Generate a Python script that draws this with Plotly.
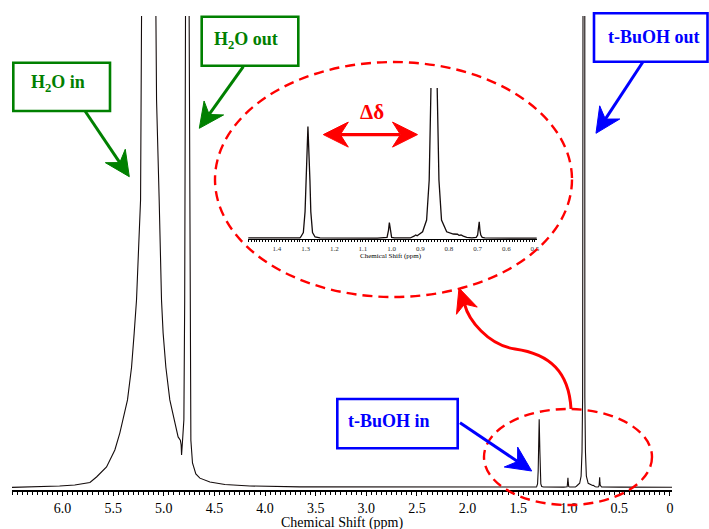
import math
import plotly.graph_objects as go

# ---------------- data ----------------
ppm = [6.50, 6.22, 6.03, 5.88, 5.73, 5.665, 5.566, 5.484, 5.435, 5.359, 5.319, 5.293,
       5.270, 5.230, 5.217, 5.210, 5.178, 5.145, 5.114, 5.082, 5.072, 5.046, 5.023,
       5.007, 4.980, 4.941, 4.891, 4.859, 4.837, 4.829, 4.825, 4.821, 4.812, 4.802,
       4.794, 4.786, 4.768, 4.750, 4.743, 4.733, 4.717, 4.684, 4.644, 4.545, 4.397,
       4.150, 3.656, 2.500, 1.600, 1.320, 1.317, 1.308, 1.302, 1.299, 1.292, 1.285,
       1.282, 1.276, 1.267, 1.250, 1.050, 1.016, 1.014, 1.011, 1.008, 1.005, 1.002,
       1.000, 0.990, 0.935, 0.922, 0.916, 0.911, 0.892, 0.878, 0.869, 0.863, 0.857,
       0.852, 0.847, 0.841, 0.835, 0.826, 0.808, 0.785, 0.775, 0.770, 0.765, 0.758,
       0.750, 0.738, 0.720, 0.705, 0.700, 0.6975, 0.6945, 0.692, 0.689, 0.684, 0.675,
       0.500, 0.300, -0.02]
intensity = [0.55, 0.65, 0.85, 1.05, 1.6, 2.75, 4.85, 8.45, 12.0, 19.0, 25.9, 33.1,
             40.1, 61.2, 82.3, 100, 200, 400, 200, 100, 82.3, 61.2, 40.1,
             33.1, 25.9, 19.0, 14.1, 11.2, 10.5, 9.5, 7.4, 9.8, 11.5, 14.8,
             40, 100, 600, 100, 40, 10.5, 5.7, 3.4, 2.5, 1.7, 1.15,
             0.85, 0.65, 0.62, 0.60, 0.62, 0.75, 1.3, 4.0, 8.0, 14.9, 8.0,
             4.0, 1.3, 0.75, 0.62, 0.60, 0.70, 1.0, 1.6, 2.6, 1.6, 1.0,
             0.70, 0.62, 0.62, 0.85, 1.0, 0.9, 1.42, 2.92, 8.05, 19.6, 150,
             2000, 150, 19.6, 8.05, 2.92, 1.42, 1.13, 1.05, 1.1, 0.95, 1.0,
             0.85, 0.7, 0.63, 0.7, 1.0, 1.6, 2.7, 1.6, 1.0, 0.7, 0.62,
             0.60, 0.60, 0.58]

main_tick_vals = [6.0, 5.5, 5.0, 4.5, 4.0, 3.5, 3.0, 2.5, 2.0, 1.5, 1.0, 0.5, 0.0]
main_tick_text = ["6.0", "5.5", "5.0", "4.5", "4.0", "3.5", "3.0", "2.5", "2.0", "1.5", "1.0", "0.5", "0"]
inset_tick_vals = [1.4, 1.3, 1.2, 1.1, 1.0, 0.9, 0.8, 0.7, 0.6, 0.5]
inset_tick_text = ["1.4", "1.3", "1.2", "1.1", "1.0", "0.9", "0.8", "0.7", "0.6", "0.5"]

# ---------------- helpers (pixel -> paper) ----------------
W, H = 709, 529
def px(x): return x / W
def py(y): return 1 - y / H
def pt(x, y): return f"{px(x):.5f},{py(y):.5f}"

GREEN = "#008000"
BLUE = "#0000ff"
RED = "#ff0000"
SERIF = "Liberation Serif"

shapes = []

def rect(x0, y0, x1, y1, color):
    shapes.append(dict(type="rect", xref="paper", yref="paper",
                       x0=px(x0), x1=px(x1), y0=py(y1), y1=py(y0),
                       line=dict(color=color, width=2.6), fillcolor="white", layer="above"))

def head(tip, ux, uy, color, hl=25, hw=12, notch=8):
    tx, ty = tip
    pxv, pyv = -uy, ux
    bx, by = tx - ux * hl, ty - uy * hl
    nx, ny = tx - ux * (hl - notch), ty - uy * (hl - notch)
    l = (bx + pxv * hw, by + pyv * hw)
    r = (bx - pxv * hw, by - pyv * hw)
    path = f"M {pt(tx, ty)} L {pt(*l)} L {pt(nx, ny)} L {pt(*r)} Z"
    shapes.append(dict(type="path", xref="paper", yref="paper", path=path,
                       fillcolor=color, line=dict(color=color, width=1), layer="above"))
    return (nx, ny)

def arrow(x0, y0, x1, y1, color, width=3, hl=25, hw=12, notch=8):
    dx, dy = x1 - x0, y1 - y0
    L = math.hypot(dx, dy)
    ux, uy = dx / L, dy / L
    nx, ny = head((x1, y1), ux, uy, color, hl, hw, notch)
    shapes.append(dict(type="line", xref="paper", yref="paper",
                       x0=px(x0), y0=py(y0), x1=px(nx), y1=py(ny),
                       line=dict(color=color, width=width), layer="above"))

def ellipse(cx, cy, rx, ry, color):
    shapes.append(dict(type="circle", xref="paper", yref="paper",
                       x0=px(cx - rx), x1=px(cx + rx), y0=py(cy + ry), y1=py(cy - ry),
                       line=dict(color=color, width=2.4, dash="10px,6px"), layer="above"))

# ---------------- figure ----------------
fig = go.Figure()
fig.add_trace(go.Scatter(x=ppm, y=intensity, mode="lines", xaxis="x", yaxis="y",
                         line=dict(color="#140c0c", width=1.1), hoverinfo="skip", showlegend=False))
fig.add_trace(go.Scatter(x=ppm, y=intensity, mode="lines", xaxis="x2", yaxis="y2",
                         line=dict(color="#140c0c", width=1.3), hoverinfo="skip", showlegend=False))

# ellipses
ellipse(393.5, 179.5, 178.5, 117.5, RED)
ellipse(568.0, 457.0, 84.0, 48.0, RED)

# boxes
rect(13.3, 62.7, 110, 111, GREEN)
rect(201.7, 16.7, 298.3, 65.7, GREEN)
rect(594, 13.3, 707.5, 61.7, BLUE)
rect(337.3, 399, 457.7, 448.3, BLUE)

# straight arrows
arrow(85, 111, 129.3, 176.7, GREEN)
arrow(243.3, 66.7, 199.3, 128.3, GREEN)
arrow(642.7, 62.3, 596, 133.3, BLUE)
arrow(460, 422.7, 531.7, 471, BLUE)

# double arrow (delta delta)
nl = head((323.3, 134.6), -1, 0, RED, hl=25, hw=12.5, notch=8)
nr = head((417.5, 134.6), 1, 0, RED, hl=25, hw=12.5, notch=8)
shapes.append(dict(type="line", xref="paper", yref="paper",
                   x0=px(nl[0]), y0=py(134.6), x1=px(nr[0]), y1=py(134.6),
                   line=dict(color=RED, width=3.2), layer="above"))

# curved red arrow
tip = (459, 288)
ux, uy = -9 / 27.5, -26 / 27.5
n = head(tip, ux, uy, RED, hl=24, hw=11, notch=7)
curve = (f"M {pt(571, 409)} C {pt(569, 372)} {pt(550, 354)} {pt(515, 349)} "
         f"C {pt(488, 345)} {pt(468.5, 320)} {pt(n[0], n[1])}")
shapes.append(dict(type="path", xref="paper", yref="paper", path=curve,
                   line=dict(color=RED, width=3), layer="above"))

annotations = [
    dict(text="<b>H<sub>2</sub>O in</b>", x=px(58), y=py(84), font=dict(family=SERIF, size=18, color=GREEN)),
    dict(text="<b>H<sub>2</sub>O out</b>", x=px(246), y=py(40), font=dict(family=SERIF, size=18, color=GREEN)),
    dict(text="<b>t-BuOH out</b>", x=px(654), y=py(37), font=dict(family=SERIF, size=18, color=BLUE)),
    dict(text="<b>t-BuOH in</b>", x=px(389), y=py(421), font=dict(family=SERIF, size=18, color=BLUE)),
    dict(text="<b>Δδ</b>", x=px(372), y=py(112), font=dict(family=SERIF, size=21, color=RED)),
    dict(text="Chemical Shift (ppm)", x=px(342), y=py(523), font=dict(family=SERIF, size=14, color="black")),
    dict(text="Chemical Shift (ppm)", x=px(391), y=py(256), font=dict(family=SERIF, size=7, color="black")),
]
for a in annotations:
    a.update(xref="paper", yref="paper", showarrow=False, xanchor="center", yanchor="middle")

fig.update_layout(
    width=W, height=H, margin=dict(l=0, r=0, t=0, b=0),
    paper_bgcolor="white", plot_bgcolor="rgba(0,0,0,0)",
    showlegend=False, shapes=shapes, annotations=annotations,
    xaxis=dict(domain=[px(12), px(672)], range=[6.5, -0.02], anchor="y",
               showline=True, linecolor="black", linewidth=1.5,
               ticks="outside", ticklen=4, tickwidth=1.2, tickcolor="black",
               tickmode="array", tickvals=main_tick_vals, ticktext=main_tick_text,
               tickfont=dict(family=SERIF, size=14, color="black"),
               minor=dict(tickmode="linear", tick0=0, dtick=0.05, ticks="outside",
                          ticklen=3, tickwidth=1, tickcolor="black", showgrid=False),
               showgrid=False, zeroline=False, automargin=False),
    yaxis=dict(domain=[py(490), py(16)], range=[0, 100], visible=False, anchor="x"),
    xaxis2=dict(domain=[px(248.3), px(536.7)], range=[1.50, 0.494], anchor="y2",
                showline=True, linecolor="black", linewidth=1.3,
                ticks="outside", ticklen=2, tickwidth=1, tickcolor="black",
                tickmode="array", tickvals=inset_tick_vals, ticktext=inset_tick_text,
                tickfont=dict(family=SERIF, size=7, color="#333333"),
                minor=dict(tickmode="linear", tick0=0, dtick=0.01, ticks="outside",
                           ticklen=2, tickwidth=1, tickcolor="black", showgrid=False),
                showgrid=False, zeroline=False, automargin=False),
    yaxis2=dict(domain=[py(239.3), py(88)], range=[0.45, 19.85], visible=False, anchor="x2"),
)

fig.write_html("out.html")
